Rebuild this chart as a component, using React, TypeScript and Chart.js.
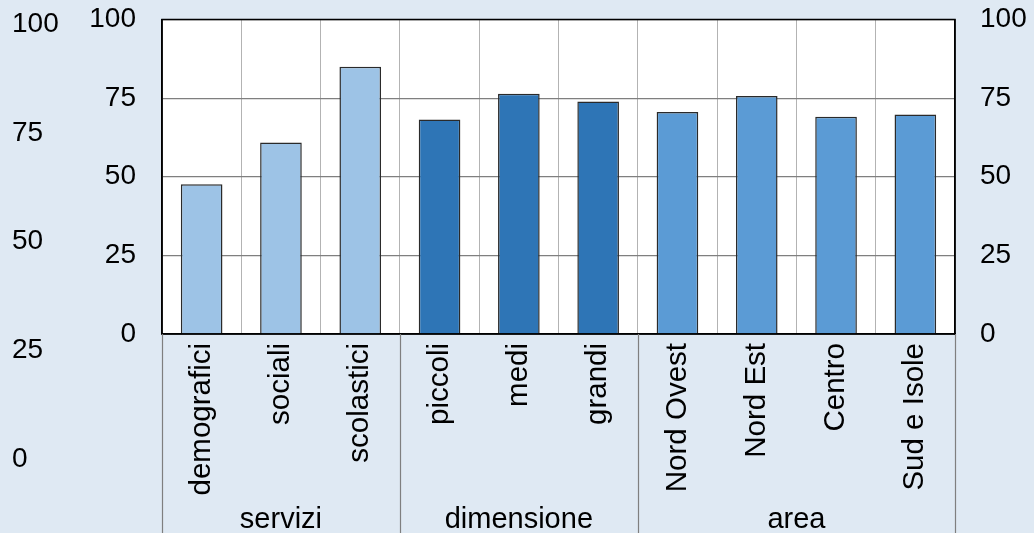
import React, { useEffect, useRef } from "react";
import { Chart, registerables } from "chart.js";

Chart.register(...registerables);

const categories = [
  "demografici",
  "sociali",
  "scolastici",
  "piccoli",
  "medi",
  "grandi",
  "Nord Ovest",
  "Nord Est",
  "Centro",
  "Sud e Isole",
];
const values = [47.6, 60.9, 85.0, 68.2, 76.4, 73.9, 70.6, 75.7, 69.1, 69.8];
const groups = ["servizi", "dimensione", "area"];
const groupSizes = [3, 3, 4];
const groupColors = ["#9dc3e6", "#2e75b6", "#5b9bd5"];
const yTicks = [0, 25, 50, 75, 100];
const outerTicks = [0, 25, 50, 75, 100];

const FONT = "'Liberation Sans', Arial, sans-serif";
const BG = "#dfe9f3";
const NUM_SIZE = 28;

const barColors: string[] = [];
groupSizes.forEach((n, gi) => {
  for (let i = 0; i < n; i++) barColors.push(groupColors[gi]);
});

export default function App() {
  const bgRef = useRef<HTMLCanvasElement>(null);
  const mainRef = useRef<HTMLCanvasElement>(null);

  useEffect(() => {
    const bgChart = new Chart(bgRef.current!, {
      type: "bar",
      data: { labels: [""], datasets: [{ data: [] }] },
      options: {
        animation: false,
        responsive: false,
        layout: { padding: { left: 12, top: 24.5, bottom: 74, right: 0 } },
        plugins: { legend: { display: false }, tooltip: { enabled: false } },
        scales: {
          x: { display: false },
          y: {
            position: "left",
            min: 0,
            max: 100,
            afterBuildTicks: (s: any) => {
              s.ticks = outerTicks.map((v) => ({ value: v }));
            },
            grid: { display: false, drawTicks: false },
            border: { display: false },
            ticks: {
              crossAlign: "far",
              padding: 0,
              color: "#000",
              font: { family: FONT, size: NUM_SIZE },
            },
          },
        },
      },
    });

    const plotPlugin = {
      id: "plotDecor",
      beforeDraw(chart: any) {
        const { ctx, chartArea } = chart;
        ctx.save();
        ctx.fillStyle = "#ffffff";
        ctx.fillRect(
          chartArea.left,
          chartArea.top,
          chartArea.right - chartArea.left,
          chartArea.bottom - chartArea.top
        );
        ctx.restore();
      },
      afterDraw(chart: any) {
        const { ctx, chartArea } = chart;
        const xs = chart.scales.x;
        ctx.save();
        ctx.strokeStyle = "#000";
        ctx.lineWidth = 1.5;
        ctx.strokeRect(
          chartArea.left,
          chartArea.top,
          chartArea.right - chartArea.left,
          chartArea.bottom - chartArea.top
        );
        let start = 0;
        const bounds: number[] = [xs.getPixelForValue(-0.5)];
        groupSizes.forEach((n) => {
          bounds.push(xs.getPixelForValue(start + n - 0.5));
          start += n;
        });
        ctx.strokeStyle = "#7f7f7f";
        ctx.lineWidth = 1.2;
        bounds.forEach((bx) => {
          ctx.beginPath();
          ctx.moveTo(Math.round(bx) + 0.5, chartArea.bottom);
          ctx.lineTo(Math.round(bx) + 0.5, chart.height);
          ctx.stroke();
        });
        ctx.fillStyle = "#000";
        ctx.font = `29px ${FONT}`;
        ctx.textAlign = "center";
        ctx.textBaseline = "alphabetic";
        groups.forEach((g, i) => {
          const cx = (bounds[i] + bounds[i + 1]) / 2;
          ctx.fillText(g, cx, 528);
        });
        ctx.restore();
      },
    };

    const mainChart = new Chart(mainRef.current!, {
      type: "bar",
      data: {
        labels: categories,
        datasets: [
          {
            data: values,
            backgroundColor: barColors,
            borderColor: "#2a2a2a",
            borderWidth: 1.5,
            barPercentage: 0.525,
            categoryPercentage: 1,
          },
        ],
      },
      options: {
        animation: false,
        responsive: false,
        layout: { padding: { top: 19.5, left: 0, right: 0, bottom: 0 } },
        plugins: { legend: { display: false }, tooltip: { enabled: false } },
        scales: {
          x: {
            afterFit: (s: any) => {
              s.height = 199;
            },
            grid: { color: "#b3b3b3", drawTicks: false, offset: true },
            border: { color: "#000", width: 1.5 },
            ticks: {
              autoSkip: false,
              maxRotation: 90,
              minRotation: 90,
              padding: 9,
              color: "#000",
              font: { family: FONT, size: 29.5 },
            },
          },
          y: {
            position: "left",
            min: 0,
            max: 100,
            afterFit: (s: any) => {
              s.width = 162;
            },
            afterBuildTicks: (s: any) => {
              s.ticks = yTicks.map((v) => ({ value: v }));
            },
            grid: {
              color: "#7f7f7f",
              lineWidth: 1.2,
              drawTicks: true,
              tickLength: 26,
              tickColor: "rgba(0,0,0,0)",
            },
            border: { color: "#000", width: 1.5 },
            ticks: {
              padding: 0,
              color: "#000",
              font: { family: FONT, size: NUM_SIZE },
            },
          },
          y2: {
            position: "right",
            min: 0,
            max: 100,
            afterFit: (s: any) => {
              s.width = 79;
            },
            afterBuildTicks: (s: any) => {
              s.ticks = yTicks.map((v) => ({ value: v }));
            },
            grid: {
              drawOnChartArea: false,
              drawTicks: true,
              tickLength: 25,
              tickColor: "rgba(0,0,0,0)",
            },
            border: { color: "#000", width: 1.5 },
            ticks: {
              padding: 0,
              color: "#000",
              font: { family: FONT, size: NUM_SIZE },
            },
          },
        },
      },
      plugins: [plotPlugin],
    });

    return () => {
      bgChart.destroy();
      mainChart.destroy();
    };
  }, []);

  return (
    <div
      style={{
        position: "fixed",
        left: 0,
        top: 0,
        width: 1034,
        height: 533,
        background: BG,
      }}
    >
      <canvas
        ref={bgRef}
        width={1034}
        height={533}
        style={{ position: "absolute", left: 0, top: 0, width: 1034, height: 533 }}
      />
      <canvas
        ref={mainRef}
        width={1034}
        height={533}
        style={{ position: "absolute", left: 0, top: 0, width: 1034, height: 533 }}
      />
    </div>
  );
}
